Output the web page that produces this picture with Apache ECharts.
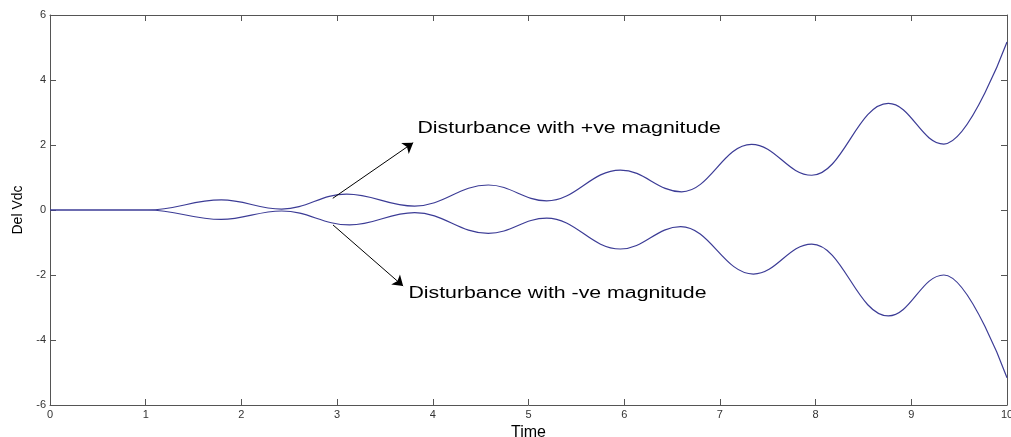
<!DOCTYPE html>
<html><head><meta charset="utf-8">
<script src="https://cdn.jsdelivr.net/npm/echarts@6/dist/echarts.min.js"></script>
<style>html,body{margin:0;padding:0;background:#fff;overflow:hidden;width:100%;height:100%}#c{width:100vw;height:100vh}</style>
</head><body><div id="c"></div>
<script>
// Data (start, then successive peaks/troughs, then end)
const time  = [0, 1.02, 1.79, 2.42, 3.10, 3.81, 4.58, 5.19, 5.96, 6.60, 7.33, 7.96, 8.76, 9.34, 10];
const upper = [0, 0, 0.31, 0.03, 0.49, 0.12, 0.77, 0.28, 1.23, 0.56, 2.02, 1.07, 3.28, 2.03, 5.17];
const timeL = [0, 1.02, 1.79, 2.42, 3.13, 3.81, 4.58, 5.19, 5.96, 6.59, 7.35, 7.96, 8.76, 9.34, 10];
const lower = [0, 0, -0.29, -0.03, -0.46, -0.08, -0.72, -0.25, -1.20, -0.51, -1.97, -1.05, -3.26, -2.00, -5.16];
const xTicks = [0, 1, 2, 3, 4, 5, 6, 7, 8, 9, 10];
const yTicks = [-6, -4, -2, 0, 2, 4, 6];
const annoText  = ['Disturbance with +ve magnitude', 'Disturbance with -ve magnitude'];
const arrowFrom = [[2.955, 0.36], [2.957, -0.46]];
const arrowTo   = [[3.795, 2.07], [3.69, -2.34]];
const textAt    = [[3.84, 2.5], [3.745, -2.56]];

const pairs = (xs, ys) => xs.map((x, i) => [x, ys[i]]);
const lineColor = '#3c3c96';
const axisColor = '#555';
const FF = 'Liberation Sans, Arial, sans-serif';
const labelStyle = { color: '#333', fontSize: 11, fontFamily: FF };

function xAx(pos, show) {
  return {
    type: 'value', position: pos, min: xTicks[0], max: xTicks[xTicks.length - 1], interval: 1,
    axisLine: { show: true, onZero: false, lineStyle: { color: axisColor, width: 1 } },
    axisTick: { show: true, inside: true, length: 6, lineStyle: { color: axisColor } },
    axisLabel: { show: show, margin: 4, ...labelStyle },
    splitLine: { show: false },
    name: show ? 'Time' : '', nameLocation: 'middle', nameGap: 12,
    nameTextStyle: { color: '#000', fontSize: 16, fontFamily: FF }
  };
}
function yAx(pos, show) {
  return {
    type: 'value', position: pos, min: yTicks[0], max: yTicks[yTicks.length - 1], interval: 2,
    axisLine: { show: true, onZero: false, lineStyle: { color: axisColor, width: 1 } },
    axisTick: { show: true, inside: true, length: 6, lineStyle: { color: axisColor } },
    axisLabel: { show: show, margin: 4, ...labelStyle },
    splitLine: { show: false },
    name: show ? 'Del Vdc' : '', nameLocation: 'middle', nameGap: 24, nameRotate: 90,
    nameTextStyle: { color: '#000', fontSize: 14, fontFamily: FF }
  };
}

const chart = echarts.init(document.getElementById('c'), null, { renderer: 'canvas' });
chart.setOption({
  animation: false,
  backgroundColor: '#fff',
  grid: { left: 50, right: 4, top: 15, bottom: 32, containLabel: false, outerBoundsMode: 'none' },
  xAxis: [xAx('bottom', true), xAx('top', false)],
  yAxis: [yAx('left', true), yAx('right', false)],
  series: [
    {
      type: 'line', name: 'upper', data: pairs(time, upper), smooth: 0.4, smoothMonotone: 'x', showSymbol: false,
      lineStyle: { color: lineColor, width: 1.2 },
      markLine: {
        silent: true, symbol: ['none', 'arrow'], symbolSize: 10,
        label: { show: false },
        lineStyle: { color: '#000', width: 1, type: 'solid' },
        emphasis: { disabled: true },
        data: arrowFrom.map((f, i) => [{ coord: f }, { coord: arrowTo[i] }])
      }
    },
    {
      type: 'line', name: 'lower', data: pairs(timeL, lower), smooth: 0.4, smoothMonotone: 'x', showSymbol: false,
      lineStyle: { color: lineColor, width: 1.2 }
    }
  ]
});

const g = textAt.map((p, i) => {
  const px = chart.convertToPixel({ gridIndex: 0 }, p);
  return {
    type: 'text', x: px[0], y: px[1], scaleX: 1.33, silent: true,
    style: { text: annoText[i], fill: '#000', fontSize: 16, fontFamily: FF,
             textAlign: 'left', textVerticalAlign: 'middle' }
  };
});
chart.setOption({ graphic: g });
</script>
</body></html>
